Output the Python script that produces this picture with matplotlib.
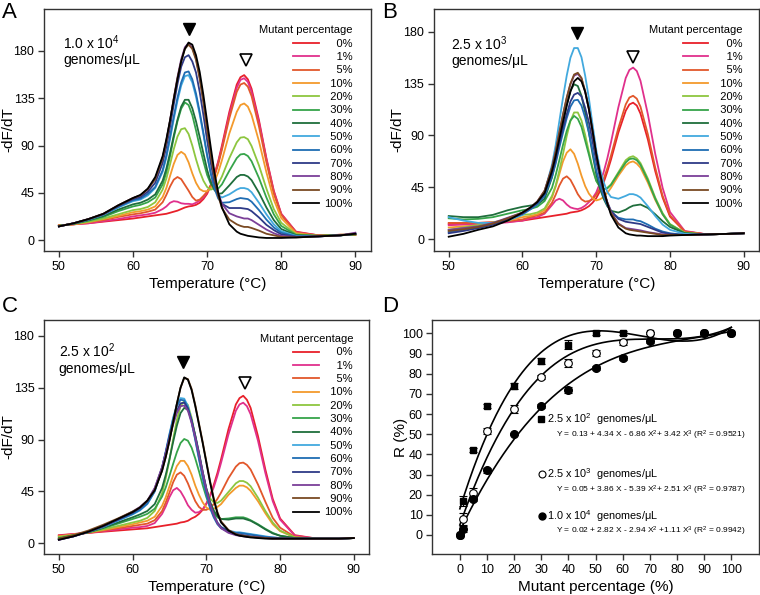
import numpy as np
import matplotlib
matplotlib.use('Agg')
import matplotlib.pyplot as plt
from matplotlib.lines import Line2D

plt.rcParams['font.family'] = ['Liberation Sans', 'DejaVu Sans']
plt.rcParams['mathtext.fontset'] = 'custom'
plt.rcParams['mathtext.rm'] = 'Liberation Sans'
plt.rcParams['mathtext.it'] = 'Liberation Sans:italic'
plt.rcParams['mathtext.bf'] = 'Liberation Sans:bold'

# temperature grid (deg C) at which the melt curves were read
temps = [50, 52, 54, 56, 58, 60, 61, 62, 63, 64,
         64.5, 65, 65.5, 66, 66.5, 67, 67.5, 68, 68.5, 69, 69.5, 70, 70.5, 71, 71.5, 72,
         73, 74, 74.5, 75, 75.5, 76, 77, 78, 79, 80, 82, 85, 88, 90]

pct_labels = ['0%', '1%', '5%', '10%', '20%', '30%', '40%', '50%', '60%', '70%', '80%', '90%', '100%']
colors = ['#e8202a', '#e0308c', '#e2572b', '#f39a2c', '#8dc63f', '#36a44a', '#1f6e3c',
          '#42a9de', '#1f6db3', '#2e3a87', '#7b3f98', '#7a4a23', '#000000']

# panel A: 1.0 x 10^4 genomes/uL
a_00 = [14, 15, 16, 17.5, 19, 20.5, 21.5, 22.5, 23.5, 24.5, 25, 26, 27, 28, 29.5, 31, 32, 32.5, 33.5, 35.5, 39, 44, 52, 62.5, 75, 90, 122, 148, 155, 157, 153, 144, 114, 78, 47, 25, 8, 4.5, 5, 5]
a_01 = [14, 15, 16, 18, 20, 22.5, 23.5, 24.5, 26, 29.5, 32, 35.5, 37, 36.5, 35, 34.5, 34.5, 34, 35.5, 37.5, 40.5, 45.5, 52.5, 62, 74, 88, 119, 145, 152.5, 154, 150.5, 141, 112, 77, 46, 25, 7.5, 4.5, 5, 5]
a_05 = [14, 15, 17, 19, 22, 24.5, 25.5, 27, 29, 36, 43, 51, 57.5, 60, 58, 52.5, 47, 41, 37.5, 38.5, 42, 46, 52, 61, 72, 86, 116, 141, 148, 149.5, 146, 137, 108, 74, 44, 24, 7, 4.5, 5, 5]
a_10 = [14, 15, 17, 20, 23, 26.5, 27.5, 29, 32, 41, 49.5, 61, 72.5, 81, 84, 81.5, 74, 63.5, 54.5, 48.5, 46.5, 46.5, 49.5, 56, 64.5, 76, 101.5, 122, 128.5, 130, 127, 119, 94, 64.5, 38.5, 21, 6.5, 4, 5, 5]
a_20 = [13.5, 15.5, 17.5, 20.5, 24.5, 28.5, 29.5, 31.5, 36, 48, 58.5, 72, 86.5, 98.5, 105.5, 106.5, 101, 90, 77, 65.5, 56.5, 50.5, 48, 49.5, 53.5, 60.5, 78, 93, 97.5, 98, 96, 89.5, 71, 49, 29.5, 16.5, 5.5, 4, 5, 5.5]
a_30 = [13.5, 15.5, 18.5, 22, 27.5, 32, 33.5, 36, 40.5, 53, 64.5, 80, 97.5, 113, 125, 131, 128.5, 119, 104.5, 89, 75, 62, 53.5, 49, 49, 53, 66, 78, 81.5, 82, 80, 75, 59, 40.5, 24.5, 13.5, 5, 4, 4.5, 5.5]
a_40 = [13.5, 15.5, 19, 23, 29, 34, 35.5, 38.5, 43.5, 56.5, 68, 83, 99.5, 114.5, 127, 133.5, 133.5, 125.5, 113, 98, 82.5, 67, 55, 47.5, 44, 44.5, 52, 60, 62, 62, 60.5, 57, 45, 31, 19, 10.5, 4.5, 4, 4.5, 5.5]
a_50 = [13, 16, 19.5, 24, 31, 37, 38.5, 42.5, 49.5, 65, 78.5, 96, 115, 132.5, 147, 156, 157, 150, 136.5, 119.5, 100.5, 80.5, 63.5, 51, 43, 40.5, 43.5, 48, 49.5, 49.5, 48.5, 45.5, 35.5, 24.5, 15, 8.5, 4, 3.5, 4.5, 6]
a_60 = [13, 16, 19.5, 24.5, 31.5, 38, 39.5, 44, 50.5, 66.5, 80.5, 98.5, 117.5, 135.5, 150, 159.5, 160.5, 153, 139.5, 122, 102, 81, 63, 49, 39.5, 35.5, 36, 39, 40, 39.5, 39, 36.5, 28.5, 19.5, 12, 7, 3.5, 3.5, 4.5, 6]
a_70 = [13, 16, 20, 24.5, 32.5, 39, 41, 46, 54.5, 73.5, 89, 108, 129, 148.5, 165, 174, 176, 170, 159.5, 141, 119, 95, 73, 55, 42, 34.5, 30.5, 30.5, 30.5, 30, 29.5, 27.5, 21.5, 14.5, 9.5, 5.5, 3, 3.5, 4.5, 6]
a_80 = [13, 16, 20, 25, 33, 40, 42.5, 48.5, 58.5, 78.5, 94.5, 114, 135, 155, 172, 183.5, 187.5, 183, 173, 155, 133, 107, 82.5, 61, 45, 34.5, 25.5, 22.5, 21.5, 20.5, 20.5, 19, 14.5, 10, 6.5, 4, 3, 3.5, 4.5, 7]
a_90 = [13, 16, 20, 25, 33, 40, 42.5, 48.5, 58, 78, 94, 113.5, 134.5, 154, 170, 182, 186, 182, 171.5, 153.5, 131, 105, 80.5, 59, 42, 30.5, 19.5, 15, 13.5, 12.5, 12.5, 11.5, 9, 6, 4.5, 3, 2.5, 3.5, 4.5, 6]
a_100 = [13, 16, 20, 25, 33, 40, 43, 49, 60, 80, 96, 114, 134, 153, 170, 182, 188, 186, 176, 160, 138, 113, 88, 64, 45, 31, 15, 8, 6, 5, 4, 3.5, 2.5, 2, 2, 2, 2.5, 3.5, 4.5, 6]

# panel B: 2.5 x 10^3 genomes/uL
b_00 = [13, 13.5, 14, 14.5, 15, 16, 17, 18, 19, 20, 20.5, 21, 21.5, 22, 23, 23.5, 24, 25, 26.5, 28.5, 31.5, 35.5, 41.5, 49, 58.5, 69, 92.5, 111.5, 117, 118.5, 116, 109, 86.5, 59, 36, 19.5, 6.5, 4, 4.5, 5]
b_01 = [12, 12.5, 13, 13.5, 14.5, 16, 18, 19, 22, 29.5, 33.5, 35, 33.5, 30, 27.5, 26.5, 26, 27, 29, 32, 35.5, 40.5, 48.5, 58, 70, 84, 114.5, 140, 147, 149, 146, 137.5, 108.5, 74, 44.5, 23.5, 7, 4, 4.5, 5]
b_05 = [14, 14, 14, 14.5, 15.5, 17, 19, 20.5, 23, 31.5, 38.5, 46.5, 52.5, 54.5, 51.5, 45.5, 39, 34.5, 32.5, 33, 34.5, 38.5, 44, 52, 61.5, 72.5, 96.5, 117, 123, 124.5, 122, 115, 91, 62, 37.5, 20.5, 6.5, 4, 4.5, 5]
b_10 = [10, 11, 12, 14, 16, 19, 20, 21.5, 25, 36, 45.5, 56.5, 67.5, 75, 78, 74, 65.5, 55, 46, 39.5, 35.5, 33.5, 34.5, 36.5, 40, 44.5, 55, 64, 66.5, 67.5, 65.5, 62, 49, 34, 21.5, 12.5, 5.5, 4, 4.5, 5]
b_20 = [8, 10, 12, 14.5, 17, 21, 21.5, 23, 26.5, 37.5, 46.5, 59.5, 74, 89.5, 102.5, 110, 110, 103, 90.5, 76, 62, 51, 45, 43, 44.5, 47.5, 58, 68.5, 71, 72, 70, 66, 52.5, 36, 22.5, 13, 5.5, 4, 4.5, 5]
b_30 = [18, 17, 17.5, 19, 22, 25, 26, 28, 33, 44.5, 55.5, 68.5, 82, 94, 103, 107, 104.5, 97.5, 85.5, 73.5, 61, 50.5, 45.5, 43.5, 44, 47, 57, 66.5, 69.5, 70, 68.5, 64.5, 51, 35, 21.5, 12.5, 5, 4, 4.5, 5]
b_40 = [20, 19, 19, 21, 25, 28, 29, 30, 35, 53.5, 67.5, 84, 101, 116.5, 129, 134.5, 133, 124.5, 110, 93, 74, 56.5, 44, 35, 28.5, 24.5, 23, 25.5, 27.5, 29, 29.5, 30, 27, 21.5, 15.5, 10.5, 5, 4, 4.5, 5]
b_50 = [19, 16, 14, 14, 16, 21, 25.5, 30.5, 41, 64.5, 81.5, 102.5, 123, 142, 157.5, 166, 166, 158, 142, 122.5, 99.5, 77.5, 61.5, 49.5, 41, 36.5, 35, 37.5, 39, 39, 38, 36, 28.5, 20, 12.5, 8, 4.5, 4, 4.5, 5]
b_60 = [6, 8, 10, 13, 17, 22, 25.5, 30, 37.5, 54, 65.5, 79.5, 92.5, 105, 115, 120.5, 121, 116, 105.5, 92.5, 76.5, 59.5, 47.5, 37, 29.5, 23.5, 18.5, 17, 17, 17, 16, 15.5, 12.5, 9, 6.5, 5, 3.5, 4, 4.5, 5]
b_70 = [5, 7, 9.5, 12.5, 17, 22, 26.5, 31.5, 39.5, 57, 69, 83.5, 96.5, 108.5, 119.5, 125.5, 127, 124, 114, 101.5, 85, 67.5, 53.5, 41.5, 32, 24.5, 17.5, 15, 14.5, 14, 13.5, 13, 10.5, 8, 5.5, 4.5, 3.5, 4, 4.5, 5]
b_80 = [8, 9.5, 11, 14, 18.5, 23, 27, 32.5, 42, 62, 76, 92.5, 108, 122.5, 134.5, 142, 143.5, 139.5, 128, 113, 93.5, 73.5, 57.5, 43, 32, 23, 13.5, 9.5, 9, 8.5, 8, 7.5, 6, 5, 4, 3.5, 3.5, 4, 4.5, 5]
b_90 = [7, 8.5, 10.5, 13.5, 18, 23, 27, 32.5, 42, 62, 76, 93, 108.5, 123, 135, 143, 144.5, 140, 128.5, 113.5, 94, 73.5, 57.5, 43, 31.5, 22.5, 13, 9, 8, 7.5, 7, 6.5, 5.5, 4.5, 3.5, 3.5, 3.5, 4, 4.5, 5]
b_100 = [2, 4.5, 8, 11, 16, 23, 27, 32, 40, 59, 72, 87, 102, 116, 128, 137, 140, 137, 128, 113, 94, 74, 57, 43, 31, 21, 10, 5, 4, 3.5, 3, 3, 2.5, 2.5, 2.5, 3, 3.5, 4, 4.5, 5]

# panel C: 2.5 x 10^2 genomes/uL
c_00 = [7, 8, 9, 10, 11, 12, 12.5, 13, 14, 15, 15.5, 16, 16.5, 17, 18, 18.5, 19.5, 21.5, 23, 25.5, 29, 34.5, 41.5, 50.5, 61, 73, 99, 120.5, 126, 128, 124.5, 117.5, 93, 64, 38.5, 21.5, 7, 4, 4, 4.5]
c_01 = [6.5, 8, 9, 10.5, 12, 13.5, 14, 15, 17.5, 25.5, 32, 40, 46, 48, 45, 39.5, 33, 29, 26.5, 27, 29.5, 34, 40.5, 48.5, 58.5, 70, 94.5, 115, 120.5, 122, 119, 112, 89, 61, 36.5, 20.5, 6.5, 4, 4, 4.5]
c_05 = [6, 7.5, 9, 11, 13, 15, 16, 17, 20, 28, 35.5, 44, 53, 59.5, 61.5, 58.5, 52, 44, 36.5, 31.5, 29, 29, 30.5, 34, 38.5, 44, 56.5, 66.5, 69.5, 70, 68, 64, 51, 36, 22, 13.5, 5.5, 4, 4, 4.5]
c_10 = [6, 7.5, 9.5, 11.5, 14, 16.5, 18, 19.5, 23, 32.5, 40, 49.5, 59, 67, 71.5, 71.5, 67, 59.5, 50, 42, 35.5, 31, 29, 30, 31.5, 34, 42, 48, 50, 50, 48.5, 45.5, 36.5, 26, 16.5, 10.5, 5, 4, 4, 4.5]
c_20 = [5.5, 7, 9.5, 12, 15, 18, 19.5, 22, 28, 43.5, 56.5, 72.5, 90.5, 107, 119, 123.5, 120, 109, 92.5, 75.5, 59.5, 47, 39, 35.5, 35, 37, 44.5, 52, 54, 54, 52.5, 49.5, 39.5, 28, 18, 11, 5, 4, 4, 4.5]
c_30 = [4.5, 7, 9.5, 13, 17, 21, 23, 25.5, 30, 40.5, 48.5, 58.5, 69, 79, 87, 90.5, 89, 83, 73.5, 62.5, 50.5, 40, 31.5, 26.5, 22.5, 21, 21.5, 22.5, 22.5, 22.5, 21.5, 20, 16.5, 12.5, 9, 6.5, 4.5, 4, 4, 4.5]
c_40 = [4, 6.5, 9.5, 13.5, 18, 22.5, 25, 28, 34, 48, 59.5, 73, 88, 102, 113, 117.5, 116, 107, 93.5, 78.5, 62, 47.5, 36, 28.5, 23.5, 21, 20.5, 21.5, 21.5, 21.5, 20.5, 19.5, 16, 12, 8.5, 6.5, 4.5, 4, 4, 4.5]
c_50 = [3.5, 6.5, 10, 14, 19.5, 25, 28.5, 34, 45, 65.5, 80, 95, 109, 120.5, 126, 125.5, 119, 106, 90.5, 74, 58, 43.5, 31.5, 23.5, 17.5, 14, 11, 9.5, 9.5, 9, 8.5, 8, 7, 6, 5, 4.5, 4, 4, 4, 4.5]
c_60 = [3.5, 6, 10, 14.5, 20, 25.5, 29, 34.5, 45, 65, 79, 94, 108, 119, 124.5, 124, 117.5, 105, 89.5, 73, 57, 42.5, 30.5, 22.5, 16.5, 13, 10, 9, 9, 8.5, 8, 7.5, 6.5, 5.5, 5, 4.5, 4, 4, 4, 4.5]
c_70 = [3, 6, 10, 14.5, 20.5, 26.5, 30.5, 36.5, 47.5, 66, 79, 92.5, 105, 115, 121.5, 122, 117, 106.5, 93, 78, 62, 47, 34.5, 25, 18, 14, 10, 8, 7.5, 7, 6.5, 6, 5.5, 4.5, 4, 4, 4, 4, 4, 4.5]
c_80 = [3, 6, 10, 15, 21, 27.5, 31.5, 37, 48, 66, 78.5, 91, 103, 113, 119, 119.5, 115, 104.5, 91.5, 77, 61.5, 46.5, 34, 24.5, 17.5, 13, 9, 7, 6.5, 6, 5.5, 5.5, 5, 4.5, 4, 4, 4, 4, 4, 4.5]
c_90 = [4, 7, 11, 16, 21.5, 27.5, 31, 37, 46, 63, 75, 89, 105, 121, 135, 143.5, 142.5, 134, 120, 104, 88, 71, 54, 39, 27, 19, 11.5, 8, 7, 6.5, 6, 5.5, 5, 4.5, 4, 4, 4, 4, 4, 4.5]
c_100 = [3, 6, 10, 15, 21, 27, 31, 37, 46, 63, 75, 89, 105, 121, 135, 144, 142, 133, 119, 103, 87, 70, 53, 38, 26, 18, 11, 7.5, 6.5, 6, 5.5, 5, 4.5, 4, 4, 4, 4, 4, 4, 4.5]

panel_a = [a_00, a_01, a_05, a_10, a_20, a_30, a_40, a_50, a_60, a_70, a_80, a_90, a_100]
panel_b = [b_00, b_01, b_05, b_10, b_20, b_30, b_40, b_50, b_60, b_70, b_80, b_90, b_100]
panel_c = [c_00, c_01, c_05, c_10, c_20, c_30, c_40, c_50, c_60, c_70, c_80, c_90, c_100]

# panel D: R (%) vs mutant percentage
mut_pct = [0, 1, 5, 10, 20, 30, 40, 50, 60, 70, 80, 90, 100]
r_250 = [0, 17, 42, 64, 74, 86.5, 94.5, 100, 100, 100, 100, 100, 100]
r_250_err = [0, 2.5, 1, 1, 1.5, 1.5, 2, 1, 1, 0.5, 0.5, 0.5, 0.5]
r_2500 = [0, 8, 21, 51.5, 62.5, 78.5, 85.5, 90.5, 95.5, 100, 100, 100, 100]
r_2500_err = [0, 3, 2.5, 1.5, 2, 1, 2, 1.5, 1, 0.5, 0.5, 0.5, 0.5]
r_10000 = [0, 3, 18, 32, 50, 64, 72, 83, 88, 96, 100, 100, 100]
r_10000_err = [0, 1.5, 1, 1, 0.5, 1, 1.5, 1, 1, 1, 0.5, 0.5, 0.5]
# cubic fits as printed in the figure (X, Y as fractions)
fit_250 = [0.13, 4.34, -6.86, 3.42]
fit_2500 = [0.05, 3.86, -5.39, 2.51]
fit_10000 = [0.02, 2.82, -2.94, 1.11]

for series in panel_a + panel_b + panel_c:
    if len(series) != len(temps):
        raise ValueError('series length mismatch')

fig = plt.figure(figsize=(7.6, 5.95), dpi=100)

SPINE = '#333333'


def style_axes(ax):
    for s in ax.spines.values():
        s.set_linewidth(1.0)
        s.set_color(SPINE)
    ax.tick_params(direction='out', length=4, width=1, labelsize=9, color=SPINE, pad=3)


def melt_panel(rect, curves, ylim, label, tri_fill, tri_open, leg_anchor, ylab_x):
    ax = fig.add_axes(rect)
    for vals, col in zip(curves, colors):
        ax.plot(temps, vals, color=col, lw=1.3, solid_joinstyle='round')
    ax.set_xlim(48.0, 92.1)
    ax.set_ylim(*ylim)
    ax.set_xticks([50, 60, 70, 80, 90])
    ax.set_yticks([0, 45, 90, 135, 180])
    style_axes(ax)
    ax.set_xlabel('Temperature (°C)', fontsize=11, labelpad=3)
    ax.set_ylabel('-dF/dT', fontsize=11)
    ax.yaxis.set_label_coords(ylab_x, 0.5)
    ax.text(label[0], label[1], label[2], fontsize=10, va='top', ha='left', linespacing=1.15)
    ax.plot(*tri_fill, marker='v', ms=8, color='black', ls='none')
    ax.plot(*tri_open, marker='v', ms=8, mfc='white', mec='black', mew=1.2, ls='none')
    handles = [Line2D([], [], color=c, lw=1.3) for c in colors]
    labels = [('\u2007' * (4 - len(p))) + p for p in pct_labels]
    ax.legend(handles, labels, loc='upper right', bbox_to_anchor=leg_anchor, frameon=False,
              fontsize=8, title='Mutant percentage', title_fontsize=8, handlelength=2.3,
              handletextpad=0.5, labelspacing=0.3, borderpad=0, borderaxespad=0,
              alignment='right')
    return ax


melt_panel([0.058, 0.578, 0.430, 0.407], panel_a, (-10.5, 220),
           (50.6, 197, '1.0 x 10$^{4}$\ngenomes/μL'), (67.6, 201), (75.2, 171),
           (0.945, 0.932), -0.088)
melt_panel([0.571, 0.578, 0.428, 0.407], panel_b, (-10.5, 200),
           (50.3, 178, '2.5 x 10$^{3}$\ngenomes/μL'), (67.35, 179), (75.0, 158),
           (0.948, 0.932), -0.092)
melt_panel([0.058, 0.069, 0.428, 0.393], panel_c, (-9.3, 193.7),
           (50.0, 175, '2.5 x 10$^{2}$\ngenomes/μL'), (66.9, 157.5), (75.3, 139),
           (0.95, 0.94), -0.088)

# panel D
axd = fig.add_axes([0.569, 0.069, 0.430, 0.393])
xf = np.linspace(0, 100, 300)
for coefs in (fit_250, fit_2500, fit_10000):
    axd.plot(xf, 100 * np.polyval(coefs[::-1], xf / 100), color='black', lw=1.2)
axd.errorbar(mut_pct, r_250, yerr=r_250_err, fmt='s', ms=5, color='black',
             ecolor='black', elinewidth=0.8, capsize=2.8, capthick=0.8)
axd.errorbar(mut_pct, r_2500, yerr=r_2500_err, fmt='o', ms=5.5, mfc='white', mec='black',
             mew=0.8, ecolor='black', elinewidth=0.8, capsize=2.8, capthick=0.8)
axd.errorbar(mut_pct, r_10000, yerr=r_10000_err, fmt='o', ms=5.5, color='black',
             ecolor='black', elinewidth=0.8, capsize=2.8, capthick=0.8)
axd.set_xlim(-10.1, 110.3)
axd.set_ylim(-9.4, 106.6)
axd.set_xticks(range(0, 101, 10))
axd.set_yticks(range(0, 101, 10))
style_axes(axd)
axd.set_xlabel('Mutant percentage (%)', fontsize=11, labelpad=3)
axd.set_ylabel('R (%)', fontsize=11)
axd.yaxis.set_label_coords(-0.076, 0.5)

axd.plot(29.9, 57.5, marker='s', ms=4.5, color='black')
axd.text(32.0, 57.5, '2.5 x 10$^{2}$  genomes/μL', fontsize=7.8, va='center')
axd.text(35.3, 49.2, 'Y = 0.13 + 4.34 X - 6.86 X$^{2}$+ 3.42 X$^{3}$ (R$^{2}$ = 0.9521)', fontsize=6, va='center')
axd.plot(30.2, 30.2, marker='o', ms=5, mfc='white', mec='black', mew=0.8)
axd.text(32.0, 30.2, '2.5 x 10$^{3}$  genomes/μL', fontsize=7.8, va='center')
axd.text(35.3, 22.3, 'Y = 0.05 + 3.86 X - 5.39 X$^{2}$+ 2.51 X$^{3}$ (R$^{2}$ = 0.9787)', fontsize=6, va='center')
axd.plot(30.2, 9.6, marker='o', ms=5, color='black')
axd.text(32.0, 9.6, '1.0 x 10$^{4}$  genomes/μL', fontsize=7.8, va='center')
axd.text(35.3, 2.0, 'Y = 0.02 + 2.82 X - 2.94 X$^{2}$ +1.11 X$^{3}$ (R$^{2}$ = 0.9942)', fontsize=6, va='center')

for x, y, s in [(0.003, 0.997, 'A'), (0.503, 0.997, 'B'), (0.003, 0.502, 'C'), (0.503, 0.502, 'D')]:
    fig.text(x, y, s, fontsize=16, va='top', ha='left')

fig.savefig('out.png', dpi=100)
